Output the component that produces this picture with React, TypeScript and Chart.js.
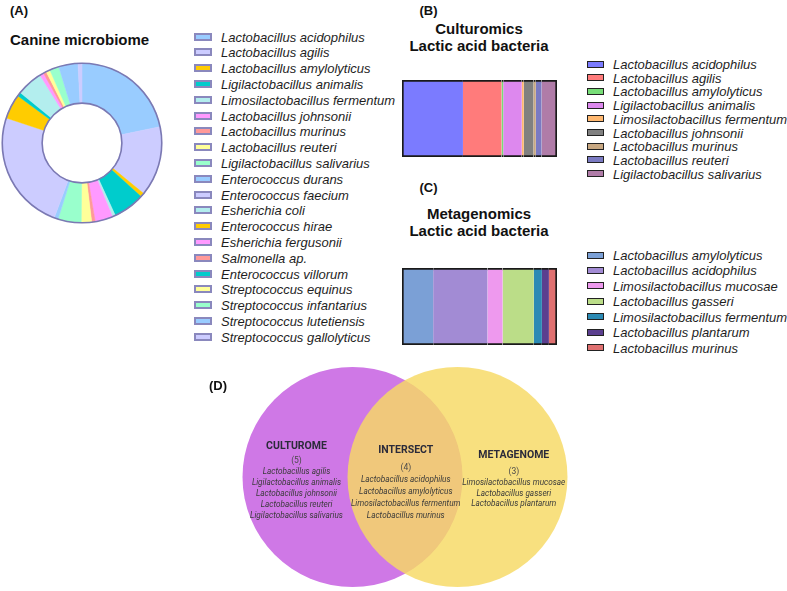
import React, { useEffect, useRef } from "react";
import { Chart, registerables } from "chart.js";

Chart.register(...registerables);

// ---------- (A) Canine microbiome ----------
const canineLabels = [
  "Lactobacillus acidophilus",
  "Lactobacillus agilis",
  "Lactobacillus amylolyticus",
  "Ligilactobacillus animalis",
  "Limosilactobacillus fermentum",
  "Lactobacillus johnsonii",
  "Lactobacillus murinus",
  "Lactobacillus reuteri",
  "Ligilactobacillus salivarius",
  "Enterococcus durans",
  "Enterococcus faecium",
  "Esherichia coli",
  "Enterococcus hirae",
  "Esherichia fergusonii",
  "Salmonella ap.",
  "Enterococcus villorum",
  "Streptococcus equinus",
  "Streptococcus infantarius",
  "Streptococcus lutetiensis",
  "Streptococcus gallolyticus",
];
const canineValues = [21.7, 14.2, 0.8, 6.4, 0.6, 3.6, 0.7, 2.1, 4.7, 0.8, 24.4, 5.3, 5.0, 0.8, 0.6, 0.8, 0.8, 1.9, 3.9, 0.8];
const canineColors = [
  "#99ccff", "#ccccff", "#ffcc00", "#00cccc", "#b3eeee", "#ff99ff", "#ff9999", "#ffff99", "#99ffcc", "#99ccff",
  "#ccccff", "#b3eeee", "#ffcc00", "#ff99ff", "#ff9999", "#00cccc", "#ffff99", "#99ffcc", "#99ccff", "#ccccff",
];
// order in which the slices run clockwise around the ring
const canineSliceOrder = [0, 1, 2, 3, 4, 5, 6, 7, 8, 9, 10, 12, 15, 11, 13, 14, 16, 17, 18, 19];

// ---------- (B) Culturomics ----------
const cultureLabels = [
  "Lactobacillus acidophilus",
  "Lactobacillus agilis",
  "Lactobacillus amylolyticus",
  "Ligilactobacillus animalis",
  "Limosilactobacillus fermentum",
  "Lactobacillus johnsonii",
  "Lactobacillus murinus",
  "Lactobacillus reuteri",
  "Ligilactobacillus salivarius",
];
const cultureValues = [39.0, 24.7, 1.1, 11.8, 1.3, 6.2, 1.5, 3.7, 9.9];
const cultureColors = ["#7b7bff", "#ff7b7b", "#77dd77", "#dd88ee", "#ffb870", "#808080", "#c8a882", "#7a7ac2", "#b07ca8"];

// ---------- (C) Metagenomics ----------
const metaLabels = [
  "Lactobacillus amylolyticus",
  "Lactobacillus acidophilus",
  "Limosilactobacillus mucosae",
  "Lactobacillus gasseri",
  "Limosilactobacillus fermentum",
  "Lactobacillus plantarum",
  "Lactobacillus murinus",
];
const metaValues = [20.0, 34.8, 9.7, 20.0, 5.2, 4.5, 5.2];
const metaColors = ["#7ba0d6", "#a28bd4", "#ee99ee", "#bbdd88", "#2b8ab4", "#5b3f8f", "#df7070"];

// ---------- (D) Venn ----------
const culturomeOnly = [
  "Lactobacillus agilis",
  "Ligilactobacillus animalis",
  "Lactobacillus johnsonii",
  "Lactobacillus reuteri",
  "Ligilactobacillus salivarius",
];
const intersectSpecies = [
  "Lactobacillus acidophilus",
  "Lactobacillus amylolyticus",
  "Limosilactobacillus fermentum",
  "Lactobacillus murinus",
];
const metagenomeOnly = [
  "Limosilactobacillus mucosae",
  "Lactobacillus gasseri",
  "Lactobacillus plantarum",
];

const SANS = "'Liberation Sans', Arial, sans-serif";
const VENN_FONT = "Roboto, 'Liberation Sans', sans-serif";

function T(props: {
  x: number; y: number; text: string; size: number; bold?: boolean; italic?: boolean;
  color?: string; align?: "left" | "center"; font?: string; spacing?: number;
}) {
  const { x, y, text, size, bold, italic, color = "#111", align = "center", font = SANS, spacing = 0 } = props;
  return (
    <div
      style={{
        position: "absolute",
        left: x,
        top: y,
        transform: align === "center" ? "translate(-50%, -50%)" : "translate(0, -50%)",
        fontFamily: font,
        fontSize: size,
        fontWeight: bold ? 700 : 400,
        fontStyle: italic ? "italic" : "normal",
        color,
        lineHeight: 1,
        whiteSpace: "nowrap",
        letterSpacing: spacing,
      }}
    >
      {text}
    </div>
  );
}

function Legend(props: {
  labels: string[]; colors: string[]; x: number; y0: number; pitch: number;
  boxW: number; boxH: number; border: string; borderW: number; textX: number;
}) {
  const { labels, colors, x, y0, pitch, boxW, boxH, border, borderW, textX } = props;
  return (
    <>
      {labels.map((l, i) => (
        <React.Fragment key={l + i}>
          <div
            style={{
              position: "absolute",
              left: x,
              top: y0 + i * pitch - boxH / 2,
              width: boxW,
              height: boxH,
              boxSizing: "border-box",
              background: colors[i],
              border: `${borderW}px solid ${border}`,
            }}
          />
          <T x={textX} y={y0 + i * pitch} text={l} size={13} italic align="left" color="#1e1e1e" />
        </React.Fragment>
      ))}
    </>
  );
}

function Donut() {
  const ref = useRef<HTMLCanvasElement>(null);
  useEffect(() => {
    const outline = {
      id: "ringOutline",
      afterDatasetsDraw(chart: any) {
        const arc = chart.getDatasetMeta(0).data[0];
        if (!arc) return;
        const { x, y, outerRadius, innerRadius } = arc.getProps(["x", "y", "outerRadius", "innerRadius"], true);
        const ctx = chart.ctx;
        ctx.save();
        ctx.strokeStyle = "#7b79b3";
        ctx.lineWidth = 1.6;
        ctx.beginPath();
        ctx.arc(x, y, outerRadius, 0, Math.PI * 2);
        ctx.stroke();
        ctx.beginPath();
        ctx.arc(x, y, innerRadius, 0, Math.PI * 2);
        ctx.stroke();
        ctx.restore();
      },
    };
    const chart = new Chart(ref.current!, {
      type: "doughnut",
      data: {
        labels: canineSliceOrder.map((i) => canineLabels[i]),
        datasets: [
          {
            data: canineSliceOrder.map((i) => canineValues[i]),
            backgroundColor: canineSliceOrder.map((i) => canineColors[i]),
            borderColor: canineSliceOrder.map((i) => canineColors[i]),
            borderWidth: 0.5,
          },
        ],
      },
      options: {
        responsive: false,
        animation: false,
        cutout: "50%",
        layout: { padding: 1 },
        plugins: { legend: { display: false }, tooltip: { enabled: false } },
      },
      plugins: [outline],
    } as any);
    return () => chart.destroy();
  }, []);
  return <canvas ref={ref} width={162} height={162} style={{ position: "absolute", left: 1, top: 62 }} />;
}

function StackBar(props: { labels: string[]; values: number[]; colors: string[]; left: number; top: number; width: number; height: number }) {
  const { labels, values, colors, left, top, width, height } = props;
  const ref = useRef<HTMLCanvasElement>(null);
  useEffect(() => {
    const total = values.reduce((a, b) => a + b, 0);
    const n = labels.length;
    const chart = new Chart(ref.current!, {
      type: "bar",
      data: {
        labels: [""],
        datasets: labels.map((l, i) => ({
          label: l,
          data: [values[i]],
          backgroundColor: colors[i],
          borderColor: "#1a1a1a",
          borderWidth: { top: 2, bottom: 2, left: i === 0 ? 2 : 0, right: i === n - 1 ? 2 : 0 },
          borderSkipped: false,
          barPercentage: 1,
          categoryPercentage: 1,
        })),
      },
      options: {
        indexAxis: "y",
        responsive: false,
        animation: false,
        layout: { padding: 0 },
        scales: {
          x: { stacked: true, display: false, min: 0, max: total },
          y: { stacked: true, display: false },
        },
        plugins: { legend: { display: false }, tooltip: { enabled: false } },
      },
    } as any);
    return () => chart.destroy();
  }, []);
  return <canvas ref={ref} width={width} height={height} style={{ position: "absolute", left, top }} />;
}

function Venn() {
  const ref = useRef<HTMLCanvasElement>(null);
  useEffect(() => {
    const chart = new Chart(ref.current!, {
      type: "bubble",
      data: {
        datasets: [
          {
            label: "Metagenome",
            data: [{ x: 1, y: 0, r: 110 }],
            backgroundColor: "rgba(246,217,99,0.82)",
            borderWidth: 0,
            hoverRadius: 0,
            clip: false,
          },
          {
            label: "Culturome",
            data: [{ x: -1, y: 0, r: 110 }],
            backgroundColor: "rgb(207,120,230)",
            borderWidth: 0,
            hoverRadius: 0,
            clip: false,
          },
        ],
      },
      options: {
        responsive: false,
        animation: false,
        layout: { padding: 0 },
        scales: {
          x: { display: false, min: -2, max: 2 },
          y: { display: false, min: -1, max: 1 },
        },
        plugins: { legend: { display: false }, tooltip: { enabled: false } },
      },
    } as any);
    return () => chart.destroy();
  }, []);
  return <canvas ref={ref} width={430} height={240} style={{ position: "absolute", left: 190, top: 357 }} />;
}

function VennText() {
  const head = "#2b2b3a";
  const sub = "#4a4a4a";
  const sp = "#3a3a3a";
  const block = (x: number, yHead: number, title: string, yCount: number, list: string[], y0: number, pitch: number) => (
    <>
      <T x={x} y={yHead} text={title} size={10.5} bold font={VENN_FONT} color={head} />
      <T x={x} y={yCount} text={`(${list.length})`} size={8.5} font={VENN_FONT} color={sub} />
      {list.map((s, i) => (
        <T key={s} x={x} y={y0 + i * pitch} text={s} size={8.2} italic font={VENN_FONT} color={sp} />
      ))}
    </>
  );
  return (
    <>
      {block(296.5, 445.5, "CULTUROME", 460, culturomeOnly, 470.7, 11.1)}
      {block(405.8, 450, "INTERSECT", 467.3, intersectSpecies, 479, 12)}
      {block(513.8, 455, "METAGENOME", 470.7, metagenomeOnly, 481.7, 10.8)}
    </>
  );
}

export default function App() {
  return (
    <div
      style={{
        position: "absolute",
        left: 0,
        top: 0,
        width: 787,
        height: 591,
        background: "#fff",
        overflow: "hidden",
      }}
    >
      {/* (A) */}
      <T x={10} y={10} text="(A)" size={13} bold align="left" />
      <T x={10} y={38.5} text="Canine microbiome" size={15} bold align="left" />
      <Donut />
      <Legend
        labels={canineLabels}
        colors={canineColors}
        x={194}
        y0={36.7}
        pitch={15.79}
        boxW={18}
        boxH={8}
        border="#8a88bd"
        borderW={2}
        textX={221}
      />

      {/* (B) */}
      <T x={428.5} y={10} text="(B)" size={13} bold />
      <T x={479} y={28} text="Culturomics" size={15} bold />
      <T x={479} y={45} text="Lactic acid bacteria" size={15} bold />
      <StackBar labels={cultureLabels} values={cultureValues} colors={cultureColors} left={402} top={80} width={155} height={77} />
      <Legend
        labels={cultureLabels}
        colors={cultureColors}
        x={587}
        y0={64}
        pitch={13.7}
        boxW={17}
        boxH={7}
        border="#222"
        borderW={1.5}
        textX={613}
      />

      {/* (C) */}
      <T x={428.5} y={187} text="(C)" size={13} bold />
      <T x={479} y={213} text="Metagenomics" size={15} bold />
      <T x={479} y={230} text="Lactic acid bacteria" size={15} bold />
      <StackBar labels={metaLabels} values={metaValues} colors={metaColors} left={402} top={268} width={155} height={77} />
      <Legend
        labels={metaLabels}
        colors={metaColors}
        x={587}
        y0={255}
        pitch={15.45}
        boxW={17}
        boxH={7}
        border="#222"
        borderW={1.5}
        textX={613}
      />

      {/* (D) */}
      <Venn />
      <T x={209} y={385} text="(D)" size={13} bold align="left" />
      <VennText />
    </div>
  );
}
